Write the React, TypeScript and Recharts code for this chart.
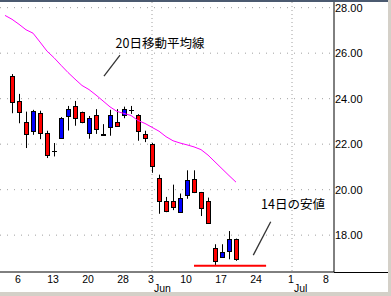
import React from 'react';
import {
  ComposedChart,
  Bar,
  Line,
  XAxis,
  YAxis,
  CartesianGrid,
  ReferenceLine,
  ReferenceDot,
} from 'recharts';

// 日足 2013/5/3 〜 6/19 (index 0 = 5/3)
const opens = [24.99, 23.89, 22.97, 22.59, 23.36, 22.49, 21.72, 22.29, 23.26, 23.67, 23.40, 22.49, 23.27, 22.43, 22.77, 22.98, 23.27, 23.51, 23.29, 22.45, 22.00, 20.52, 19.52, 19.52, 19.01, 19.76, 20.49, 19.90, 19.49, 17.42, 17.02, 17.30, 17.85];
const highs = [25.08, 24.21, 23.43, 23.51, 23.47, 22.59, 22.05, 23.19, 23.68, 23.90, 23.43, 23.24, 23.54, 22.88, 23.51, 23.54, 23.65, 23.68, 23.32, 22.59, 22.05, 20.66, 19.68, 20.22, 19.83, 20.85, 20.85, 19.90, 19.65, 17.60, 17.60, 18.18, 17.85];
const lows = [23.36, 22.92, 21.83, 22.41, 22.22, 21.39, 21.46, 22.29, 22.60, 22.81, 22.92, 22.24, 22.45, 22.37, 22.37, 22.80, 23.14, 23.33, 22.15, 22.09, 20.74, 18.94, 19.01, 19.10, 19.01, 19.60, 19.85, 18.84, 18.50, 16.69, 17.02, 16.94, 16.87];
const closes = [23.87, 23.43, 22.44, 23.47, 22.49, 21.54, 21.72, 23.14, 23.55, 23.14, 22.99, 23.14, 22.66, 22.40, 23.29, 22.81, 23.54, 23.51, 22.56, 22.27, 21.05, 19.49, 19.05, 19.25, 19.64, 20.44, 19.89, 19.20, 18.54, 16.87, 17.28, 17.85, 16.94];

// 20日移動平均 (index -1 .. 32)
const ma20 = [27.66, 27.49, 27.27, 27.03, 26.88, 26.49, 26.09, 25.80, 25.47, 25.15, 24.86, 24.58, 24.40, 24.16, 23.90, 23.64, 23.44, 23.35, 23.26, 23.04, 22.91, 22.74, 22.57, 22.33, 22.15, 22.05, 21.97, 21.88, 21.76, 21.52, 21.22, 20.92, 20.62, 20.33];

const tickIdx = [1, 6, 11, 16, 20, 25, 30, 35, 40, 45];
const tickDays = ['6', '13', '20', '28', '3', '10', '17', '24', '1', '8'];
const tickMonths = ['', '', '', '', 'Jun', '', '', '', 'Jul', ''];
const monthStarts = [20, 40];
const priceTicks = [18, 20, 22, 24, 26, 28];
const gridPrices = [17, 18, 19, 20, 21, 22, 23, 24, 25, 26, 27, 28];

const low14 = 16.66; // 6/14 の安値
const low14From = 26;
const low14To = 36.3;

const data = ma20.map((ma, i) => {
  const k = i - 1;
  return { idx: k, ma, open: opens[k], high: highs[k], low: lows[k], close: closes[k] };
});

const Candle = (props: any) => {
  const { x, y, width, height, payload } = props;
  if (!payload || payload.open == null) return null;
  const { open, high, low, close } = payload;
  const top = Math.min(y, y + height);
  const h = Math.abs(height);
  const ppu = h / (high - low);
  const yOf = (v: number) => top + (high - v) * ppu;
  const c = Math.round(x + width / 2);
  const wx = c + 0.5;
  const els = [
    <line key="w" x1={wx} x2={wx} y1={yOf(high)} y2={yOf(low)} stroke="#000" strokeWidth={1} />,
  ];
  if (Math.abs(open - close) < 0.005) {
    const yy = Math.round(yOf(open)) + 0.5;
    els.push(<line key="d" x1={c - 2} x2={c + 3} y1={yy} y2={yy} stroke="#000" strokeWidth={1} />);
  } else {
    const y1 = Math.round(yOf(Math.max(open, close))) + 0.5;
    const y2 = Math.round(yOf(Math.min(open, close))) + 0.5;
    els.push(
      <rect
        key="b"
        x={c - 1.5}
        y={y1}
        width={4}
        height={Math.max(1, y2 - y1)}
        fill={close < open ? '#ff0000' : '#0000ff'}
        stroke="#000"
        strokeWidth={1}
      />
    );
  }
  return <g>{els}</g>;
};

const DateTick = (props: any) => {
  const { x, y, payload } = props;
  const i = tickIdx.indexOf(payload.value);
  if (i < 0) return null;
  return (
    <g>
      <text x={x - 1} y={y + 11} textAnchor="middle" fontSize={10.5} fontFamily="Liberation Sans" fill="#000">
        {tickDays[i]}
      </text>
      {tickMonths[i] && (
        <text x={x + 2} y={y + 19.5} textAnchor="start" fontSize={10.5} fontFamily="Liberation Sans" fill="#000">
          {tickMonths[i]}
        </text>
      )}
    </g>
  );
};

const noteStyle = { fill: '#000', fontSize: 12.5, fontFamily: 'Noto Sans CJK JP' };

export default function App() {
  return (
    <div style={{ position: 'absolute', left: 0, top: 0, width: 391, height: 296, background: '#fff', overflow: 'hidden' }}>
      <ComposedChart width={391} height={296} data={data} margin={{ top: 2, right: 0, bottom: 0, left: 0 }}>
        <CartesianGrid horizontal={true} vertical={false} horizontalValues={gridPrices} stroke="#a0a0a0" strokeDasharray="1 6" />
        <CartesianGrid horizontal={false} vertical={true} verticalValues={monthStarts} stroke="#a0a0a0" strokeDasharray="1 3" />
        <XAxis
          dataKey="idx"
          type="number"
          domain={[-12 / 7, 46]}
          allowDataOverflow
          ticks={tickIdx}
          interval={0}
          height={24}
          axisLine={{ stroke: '#000' }}
          tickLine={false}
          tickSize={0}
          tickMargin={0}
          tick={<DateTick />}
        />
        <YAxis
          orientation="right"
          type="number"
          domain={[16.38, 28.25]}
          allowDataOverflow
          ticks={priceTicks}
          width={57}
          axisLine={{ stroke: '#000' }}
          tickLine={false}
          tickSize={0}
          tickMargin={1}
          tickFormatter={(v: number) => v.toFixed(2)}
          tick={{ fill: '#000', fontSize: 11, fontFamily: 'Liberation Sans' }}
        />
        <ReferenceLine
          segment={[{ x: low14From, y: low14 }, { x: low14To, y: low14 }]}
          stroke="#ff0000"
          strokeWidth={2}
        />
        <Bar dataKey={(d: any) => (d.open == null ? null : [d.low, d.high])} barSize={5} shape={<Candle />} isAnimationActive={false} />
        <Line dataKey="ma" stroke="#ff00ff" strokeWidth={1} dot={false} activeDot={false} isAnimationActive={false} />
        <ReferenceLine segment={[{ x: 13.14, y: 24.99 }, { x: 15.43, y: 25.91 }]} stroke="#333" strokeWidth={1.3} />
        <ReferenceLine segment={[{ x: 34.47, y: 17.12 }, { x: 36.96, y: 18.59 }]} stroke="#333" strokeWidth={1.3} />
        <ReferenceDot x={21.14} y={26.44} r={0} fill="none" stroke="none" label={{ value: '20日移動平均線', position: 'center', ...noteStyle }} />
        <ReferenceDot x={40.14} y={19.35} r={0} fill="none" stroke="none" label={{ value: '14日の安値', position: 'center', ...noteStyle }} />
      </ComposedChart>
      <div style={{ position: 'absolute', left: 0, top: 0, width: 391, height: 2, background: '#4b5a70' }} />
      <div style={{ position: 'absolute', left: 334, top: 272, width: 54, height: 1, background: '#000' }} />
      <div style={{ position: 'absolute', left: 388, top: 0, width: 3, height: 296, background: '#d4d0c8' }} />
      <div style={{ position: 'absolute', left: 0, top: 292, width: 391, height: 4, background: '#d4d0c8' }} />
    </div>
  );
}
